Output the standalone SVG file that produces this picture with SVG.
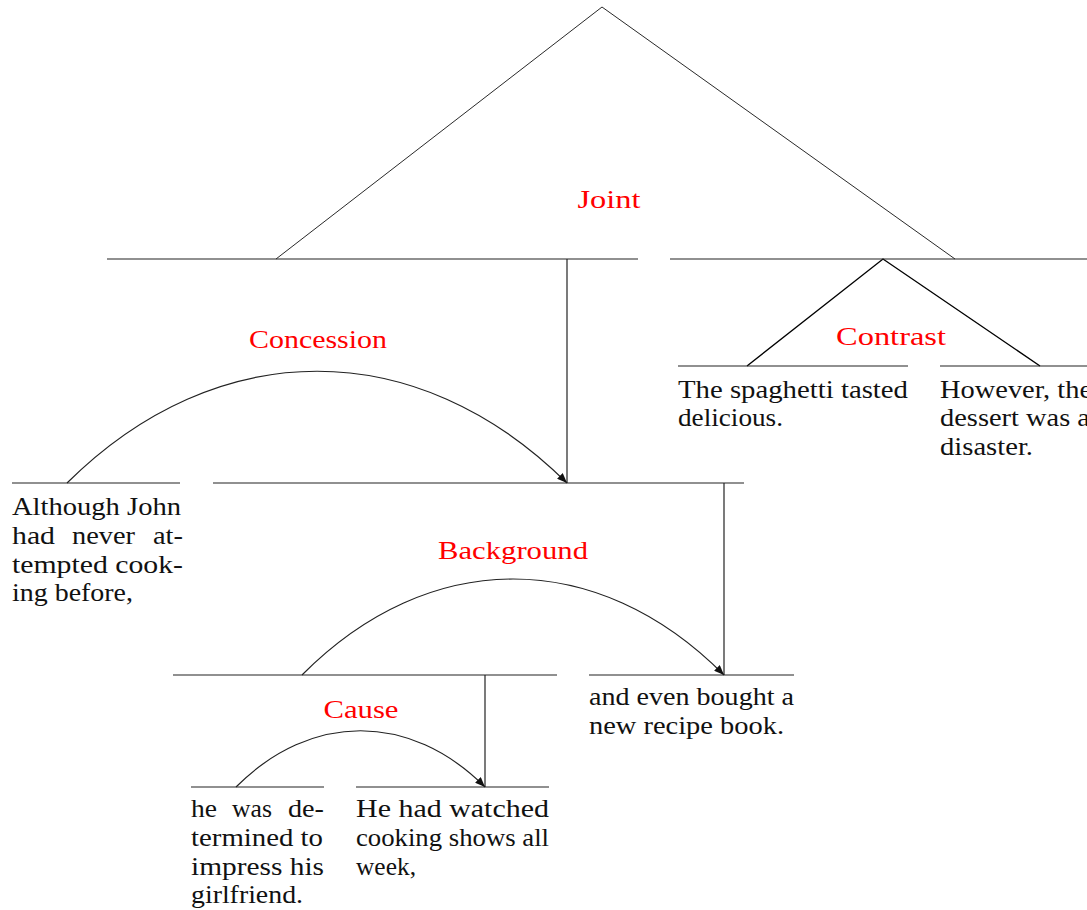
<svg xmlns="http://www.w3.org/2000/svg" width="1087" height="910" viewBox="0 0 1087 910">
<defs>
<style>
.ln{stroke:#222;stroke-width:1.2;fill:none}
.thin{stroke:#111;stroke-width:0.9;fill:none}
.t{font-family:"Liberation Serif","DejaVu Serif",serif;font-size:25px;fill:#111}
.rel{font-family:"Liberation Serif","DejaVu Serif",serif;font-size:25px;fill:#ff0000;text-anchor:middle}
</style>
<marker id="ah" viewBox="0 0 10 8" refX="10" refY="4" markerWidth="10" markerHeight="8" markerUnits="userSpaceOnUse" orient="auto">
<path d="M0,0 L10,4 L0,8 Z" fill="#111"/>
</marker>
</defs>
<rect width="1087" height="910" fill="#fff"/>

<g id="connectors">
<path class="thin" d="M276,259 L602,7 L955,259"/>
<path class="ln" d="M567,259 L567,483"/>
<path class="ln" d="M747,366 L883,259 L1040,366" style="stroke:#000;stroke-width:1.4"/>
<path class="ln" d="M724,483 L724,675"/>
<path class="ln" d="M485,675 L485,787"/>
<path class="ln" d="M67,483 C217,334 417,334 567,483" marker-end="url(#ah)"/>
<path class="ln" d="M302,675 C429,547 597,547 724,675" marker-end="url(#ah)"/>
<path class="ln" d="M236,787 C311,712 410,712 485,787" marker-end="url(#ah)"/>
</g>

<g id="joint">
<line class="ln" x1="107" y1="259" x2="638" y2="259"/>
<line class="ln" x1="670" y1="259" x2="1087" y2="259"/>
<text class="rel" x="609" y="208" textLength="63" lengthAdjust="spacingAndGlyphs">Joint</text>
</g>

<g id="contrast">
<text class="rel" x="891" y="345" textLength="110" lengthAdjust="spacingAndGlyphs">Contrast</text>
</g>

<g id="edu-spaghetti">
<line class="ln" x1="678" y1="366" x2="908" y2="366"/>
<text class="t" x="678" y="398" textLength="230" lengthAdjust="spacingAndGlyphs">The spaghetti tasted</text>
<text class="t" x="678" y="426" textLength="105" lengthAdjust="spacingAndGlyphs">delicious.</text>
</g>

<g id="edu-however">
<line class="ln" x1="940" y1="366" x2="1087" y2="366"/>
<text class="t" x="940" y="398" textLength="152" lengthAdjust="spacingAndGlyphs">However, the</text>
<text class="t" x="940" y="426" textLength="150" lengthAdjust="spacingAndGlyphs">dessert was a</text>
<text class="t" x="940" y="455" textLength="93" lengthAdjust="spacingAndGlyphs">disaster.</text>
</g>

<g id="concession">
<line class="ln" x1="213" y1="483" x2="744" y2="483"/>
<text class="rel" x="318" y="348" textLength="138" lengthAdjust="spacingAndGlyphs">Concession</text>
</g>

<g id="edu-although">
<line class="ln" x1="12" y1="483" x2="180" y2="483"/>
<text class="t" x="12" y="515" textLength="169" lengthAdjust="spacingAndGlyphs">Although John</text>
<text class="t" y="544"><tspan x="12" textLength="43" lengthAdjust="spacingAndGlyphs">had</tspan><tspan x="72" textLength="63" lengthAdjust="spacingAndGlyphs">never</tspan><tspan x="153" textLength="30" lengthAdjust="spacingAndGlyphs">at-</tspan></text>
<text class="t" x="12" y="573" textLength="171" lengthAdjust="spacingAndGlyphs">tempted cook-</text>
<text class="t" x="12" y="601" textLength="121" lengthAdjust="spacingAndGlyphs">ing before,</text>
</g>

<g id="background">
<line class="ln" x1="173" y1="675" x2="557" y2="675"/>
<text class="rel" x="513" y="559" textLength="150" lengthAdjust="spacingAndGlyphs">Background</text>
</g>

<g id="edu-bought">
<line class="ln" x1="589" y1="675" x2="794" y2="675"/>
<text class="t" x="589" y="705" textLength="205" lengthAdjust="spacingAndGlyphs">and even bought a</text>
<text class="t" x="589" y="734" textLength="195" lengthAdjust="spacingAndGlyphs">new recipe book.</text>
</g>

<g id="cause">
<text class="rel" x="361" y="718" textLength="75" lengthAdjust="spacingAndGlyphs">Cause</text>
</g>

<g id="edu-determined">
<line class="ln" x1="191" y1="787" x2="324" y2="787"/>
<text class="t" y="817"><tspan x="191" textLength="26" lengthAdjust="spacingAndGlyphs">he</tspan><tspan x="232" textLength="40" lengthAdjust="spacingAndGlyphs">was</tspan><tspan x="288" textLength="36" lengthAdjust="spacingAndGlyphs">de-</tspan></text>
<text class="t" x="191" y="846" textLength="132" lengthAdjust="spacingAndGlyphs">termined to</text>
<text class="t" x="191" y="875" textLength="133" lengthAdjust="spacingAndGlyphs">impress his</text>
<text class="t" x="191" y="903" textLength="112" lengthAdjust="spacingAndGlyphs">girlfriend.</text>
</g>

<g id="edu-watched">
<line class="ln" x1="356" y1="787" x2="549" y2="787"/>
<text class="t" x="356" y="817" textLength="193" lengthAdjust="spacingAndGlyphs">He had watched</text>
<text class="t" x="356" y="846" textLength="193" lengthAdjust="spacingAndGlyphs">cooking shows all</text>
<text class="t" x="356" y="875" textLength="60" lengthAdjust="spacingAndGlyphs">week,</text>
</g>
</svg>
